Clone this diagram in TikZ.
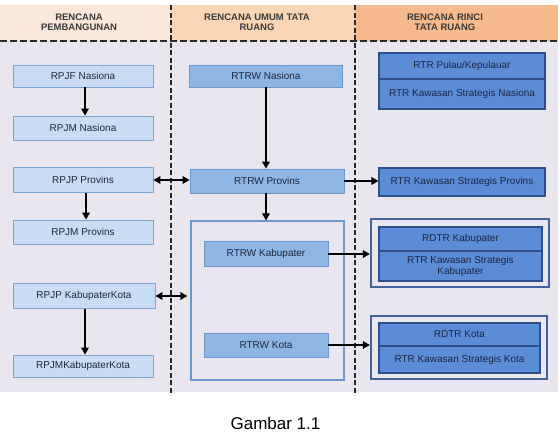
\documentclass[tikz,border=0pt]{standalone}
\usepackage{fontspec}
\setmainfont{Liberation Sans}
\usetikzlibrary{arrows.meta}
\definecolor{bgc}{HTML}{E9E6EF}
\definecolor{h1c}{HTML}{FBE8DA}
\definecolor{h2c}{HTML}{FAD6B6}
\definecolor{h3c}{HTML}{F7BA8C}
\definecolor{lfill}{HTML}{C8DDF3}
\definecolor{lbord}{HTML}{7EA6D2}
\definecolor{mfill}{HTML}{8EB5E4}
\definecolor{mbord}{HTML}{6A98CF}
\definecolor{rfill}{HTML}{5B8CD6}
\definecolor{rbord}{HTML}{2E4F8A}
\definecolor{obord}{HTML}{43639A}
\definecolor{txt}{HTML}{1C2742}
\definecolor{htxt}{HTML}{3A3A3A}
\definecolor{dash}{HTML}{2A2A2A}
\begin{document}
\begin{tikzpicture}[x=1pt,y=-1pt,
  box/.style={draw, line width=0.8pt, inner sep=0pt, text=txt, align=center, font=\fontsize{10}{11}\selectfont},
  lbox/.style={box, fill=lfill, draw=lbord},
  mbox/.style={box, fill=mfill, draw=mbord},
  rbox/.style={box, fill=rfill, draw=rbord, line width=1.1pt},
  outer/.style={draw=obord, line width=2.2pt, fill=bgc, inner sep=0pt},
  head/.style={align=center, text=htxt, font=\bfseries\fontsize{9.5}{10.5}\selectfont},
  arr/.style={-{Triangle[length=7pt,width=7.5pt]}, line width=1.6pt, black},
  darr/.style={{Triangle[length=7pt,width=7.5pt]}-{Triangle[length=7pt,width=7.5pt]}, line width=1.6pt, black},
  sep/.style={draw=dash, line width=2pt, dash pattern=on 5pt off 2.5pt}
]
\useasboundingbox (0,0) rectangle (560,434);
% backgrounds
\fill[bgc] (0,41) rectangle (558,392);
\fill[h1c] (0,5) rectangle (171,41);
\fill[h2c] (171,5) rectangle (355,41);
\fill[h3c] (355,5) rectangle (558,41);
% headers
\node[head] (h1) at (79,22) {RENCANA\\PEMBANGUNAN};
\node[head] (h2) at (257,22) {RENCANA UMUM TATA\\RUANG};
\node[head] (h3) at (445,22) {RENCANA RINCI\\TATA RUANG};
% separators
\draw[sep, dash pattern=on 7pt off 3pt] (0,41) -- (558,41);
\draw[sep] (171,5) -- (171,395);
\draw[sep] (355,5) -- (355,395);
% left column
\node[lbox, minimum width=140pt, minimum height=22pt] (rpjpn) at (83,76) {RPJF Nasiona};
\node[lbox, minimum width=140pt, minimum height=24pt] (rpjmn) at (83,128) {RPJM Nasiona};
\node[lbox, minimum width=140pt, minimum height=25pt] (rpjpp) at (83,180) {RPJP Provins};
\node[lbox, minimum width=140pt, minimum height=24pt] (rpjmp) at (83,232) {RPJM Provins};
\node[lbox, minimum width=142pt, minimum height=25pt] (rpjpk) at (84,296) {RPJP KabupaterKota};
\node[lbox, minimum width=140pt, minimum height=22pt] (rpjmk) at (83,366) {RPJMKabupaterKota};
% middle column
\node[mbox, minimum width=153pt, minimum height=22pt] (rtrwn) at (266,76) {RTRW Nasiona};
\node[mbox, minimum width=154pt, minimum height=24pt] (rtrwp) at (267,181) {RTRW Provins};
\node[draw=mbord, line width=1.2pt, inner sep=0pt, minimum width=153pt, minimum height=159pt] (cont) at (267.5,300.5) {};
\node[mbox, minimum width=124pt, minimum height=25pt] (rtrwk) at (266,254) {RTRW Kabupater};
\node[mbox, minimum width=124pt, minimum height=24pt] (rtrwko) at (266,345) {RTRW Kota};
% right column
\node[rbox, minimum width=166pt, minimum height=26pt] (rtrpk) at (462,66) {RTR Pulau/Kepulauar};
\node[rbox, minimum width=166pt, minimum height=30pt] (rtrksn) at (462,94) {RTR Kawasan Strategis Nasiona};
\node[rbox, minimum width=166pt, minimum height=28pt] (rtrksp) at (462,182) {RTR Kawasan Strategis Provins};
\node[outer, minimum width=178pt, minimum height=68pt] (rdk) at (460,253) {};
\node[rbox, minimum width=163pt, minimum height=24pt] (rdtrk) at (460.5,239) {RDTR Kabupater};
\node[rbox, minimum width=163pt, minimum height=30pt] (rtrksk) at (460.5,266) {RTR Kawasan Strategis\\Kabupater};
\node[outer, minimum width=176pt, minimum height=63pt] (rdko) at (459,347.5) {};
\node[rbox, minimum width=161pt, minimum height=23pt] (rdtrko) at (459.5,334.5) {RDTR Kota};
\node[rbox, minimum width=161pt, minimum height=27pt] (rtrksko) at (459.5,359.5) {RTR Kawasan Strategis Kota};
% arrows
\draw[arr] ([xshift=2pt]rpjpn.south) -- ([xshift=2pt]rpjmn.north);
\draw[arr] ([xshift=3pt]rpjpp.south) -- ([xshift=3pt]rpjmp.north);
\draw[arr] ([xshift=1pt]rpjpk.south) -- ([xshift=1pt]rpjpk.south |- rpjmk.north);
\draw[darr] (rpjpp.east) -- (rpjpp.east -| rtrwp.west);
\draw[darr] (rpjpk.east) -- ([xshift=-3pt]rpjpk.east -| cont.west);
\draw[arr] (rtrwn.south) -- (rtrwn.south |- rtrwp.north);
\draw[arr] ([xshift=-1pt]rtrwp.south) -- ([xshift=-1pt]rtrwp.south |- cont.north);
\draw[arr] (rtrwp.east) -- (rtrwp.east -| rtrksp.west);
\draw[arr] (rtrwk.east) -- (rtrwk.east -| rdk.west);
\draw[arr] (rtrwko.east) -- (rtrwko.east -| rdko.west);
% caption
\node[font=\fontsize{17}{20}\selectfont, text=black] (cap) at (275.5,423) {Gambar 1.1};
\end{tikzpicture}
\end{document}
